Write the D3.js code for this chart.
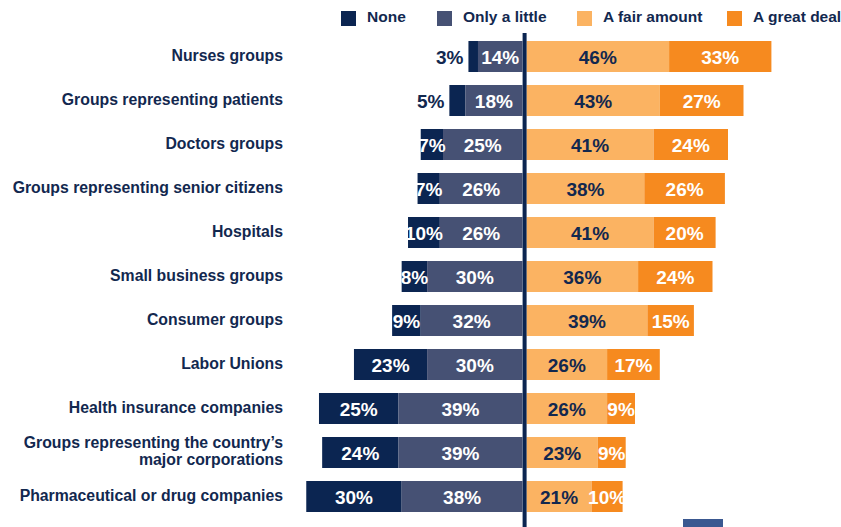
<!DOCTYPE html>
<html>
<head>
<meta charset="utf-8">
<script src="https://cdn.jsdelivr.net/npm/d3@7"></script>
<style>
    body { margin: 0; background: #fff; }
    svg text { font-family: Arial, "Liberation Sans", sans-serif; font-weight: bold; }
</style>
</head>
<body>
<div id="chart"></div>
<script>

// data
var categories = [
    "Nurses groups",
    "Groups representing patients",
    "Doctors groups",
    "Groups representing senior citizens",
    "Hospitals",
    "Small business groups",
    "Consumer groups",
    "Labor Unions",
    "Health insurance companies",
    "Groups representing the country\u2019s major corporations",
    "Pharmaceutical or drug companies"
];
var seriesNames = ["None", "Only a little", "A fair amount", "A great deal"];
var noneVals     = [3, 5, 7, 7, 10, 8, 9, 23, 25, 24, 30];
var littleVals   = [14, 18, 25, 26, 26, 30, 32, 30, 39, 39, 38];
var fairVals     = [46, 43, 41, 38, 41, 36, 39, 26, 26, 23, 21];
var greatVals    = [33, 27, 24, 26, 20, 24, 15, 17, 9, 9, 10];

var colors = ["#0b2551", "#465174", "#fbb362", "#f68a1f"];
var navy = "#12284f";

var width = 841, height = 527;

var svg = d3.select("#chart")
    .append("svg")
    .attr("width", width)
    .attr("height", height);

var yScale = d3.scaleBand()
    .domain(categories)
    .range([34.5, 34.5 + categories.length * 44])
    .paddingInner(13 / 44)
    .paddingOuter(13 / 88);

// left side grows leftwards from the centre line, right side rightwards
var xLeft = d3.scaleLinear().domain([0, 70]).range([522.5, 522.5 - 222.6]);
var xRight = d3.scaleLinear().domain([0, 80]).range([526.5, 526.5 + 248]);

var rows = categories.map(function (c, i) {
    return {cat: c, none: noneVals[i], little: littleVals[i], fair: fairVals[i], great: greatVals[i]};
});

// build segments
var segs = [];
rows.forEach(function (d) {
    segs.push({cat: d.cat, k: 0, v: d.none, x0: xLeft(d.little + d.none), x1: xLeft(d.little)});
    segs.push({cat: d.cat, k: 1, v: d.little, x0: xLeft(d.little), x1: xLeft(0)});
    segs.push({cat: d.cat, k: 2, v: d.fair, x0: xRight(0), x1: xRight(d.fair)});
    segs.push({cat: d.cat, k: 3, v: d.great, x0: xRight(d.fair), x1: xRight(d.fair + d.great)});
});

svg.append("g").selectAll("rect")
    .data(segs)
    .enter()
    .append("rect")
    .attr("x", function (d) { return d.x0; })
    .attr("width", function (d) { return d.x1 - d.x0; })
    .attr("y", function (d) { return yScale(d.cat); })
    .attr("height", yScale.bandwidth())
    .attr("fill", function (d) { return colors[d.k]; });

// value labels
svg.append("g").selectAll("text")
    .data(segs)
    .enter()
    .append("text")
    .attr("x", function (d) {
        if (d.k === 0 && d.v < 6) return d.x0 - 5;
        return (d.x0 + d.x1) / 2;
    })
    .attr("y", function (d) { return yScale(d.cat) + yScale.bandwidth() / 2 + 7; })
    .attr("text-anchor", function (d) { return (d.k === 0 && d.v < 6) ? "end" : "middle"; })
    .attr("fill", function (d) {
        if (d.k === 0 && d.v < 6) return navy;
        return d.k === 2 ? navy : "#fff";
    })
    .style("font-size", "19px")
    .text(function (d) { return d.v + "%"; });

// category labels
var catLabels = svg.append("g").selectAll("text")
    .data(categories)
    .enter()
    .append("text")
    .attr("x", 283)
    .attr("text-anchor", "end")
    .attr("fill", navy)
    .style("font-size", "15.8px");

catLabels.each(function (c) {
    var t = d3.select(this);
    var cy = yScale(c) + yScale.bandwidth() / 2;
    if (c.indexOf("major corporations") > -1) {
        t.append("tspan").attr("x", 283).attr("y", cy - 5).text("Groups representing the country\u2019s");
        t.append("tspan").attr("x", 283).attr("y", cy + 12).text("major corporations");
    } else {
        t.attr("y", cy + 4).text(c);
    }
});

// centre line
svg.append("line")
    .attr("x1", 524.6)
    .attr("x2", 524.6)
    .attr("y1", 33)
    .attr("y2", height)
    .attr("stroke", "#0b2551")
    .attr("stroke-width", 4);

// legend
var legendX = [341, 437, 577, 727];
var legend = svg.append("g").selectAll("g")
    .data(seriesNames)
    .enter()
    .append("g")
    .attr("transform", function (d, i) { return "translate(" + legendX[i] + ",11)"; });

legend.append("rect")
    .attr("width", 15)
    .attr("height", 15)
    .attr("fill", function (d, i) { return colors[i]; });

legend.append("text")
    .attr("x", 26)
    .attr("y", 11)
    .attr("fill", navy)
    .style("font-size", "15.5px")
    .text(function (d) { return d; });

// small logo strip bottom right
svg.append("rect")
    .attr("x", 683)
    .attr("y", 519)
    .attr("width", 40)
    .attr("height", 8)
    .attr("fill", "#3a5890");

</script>
</body>
</html>
